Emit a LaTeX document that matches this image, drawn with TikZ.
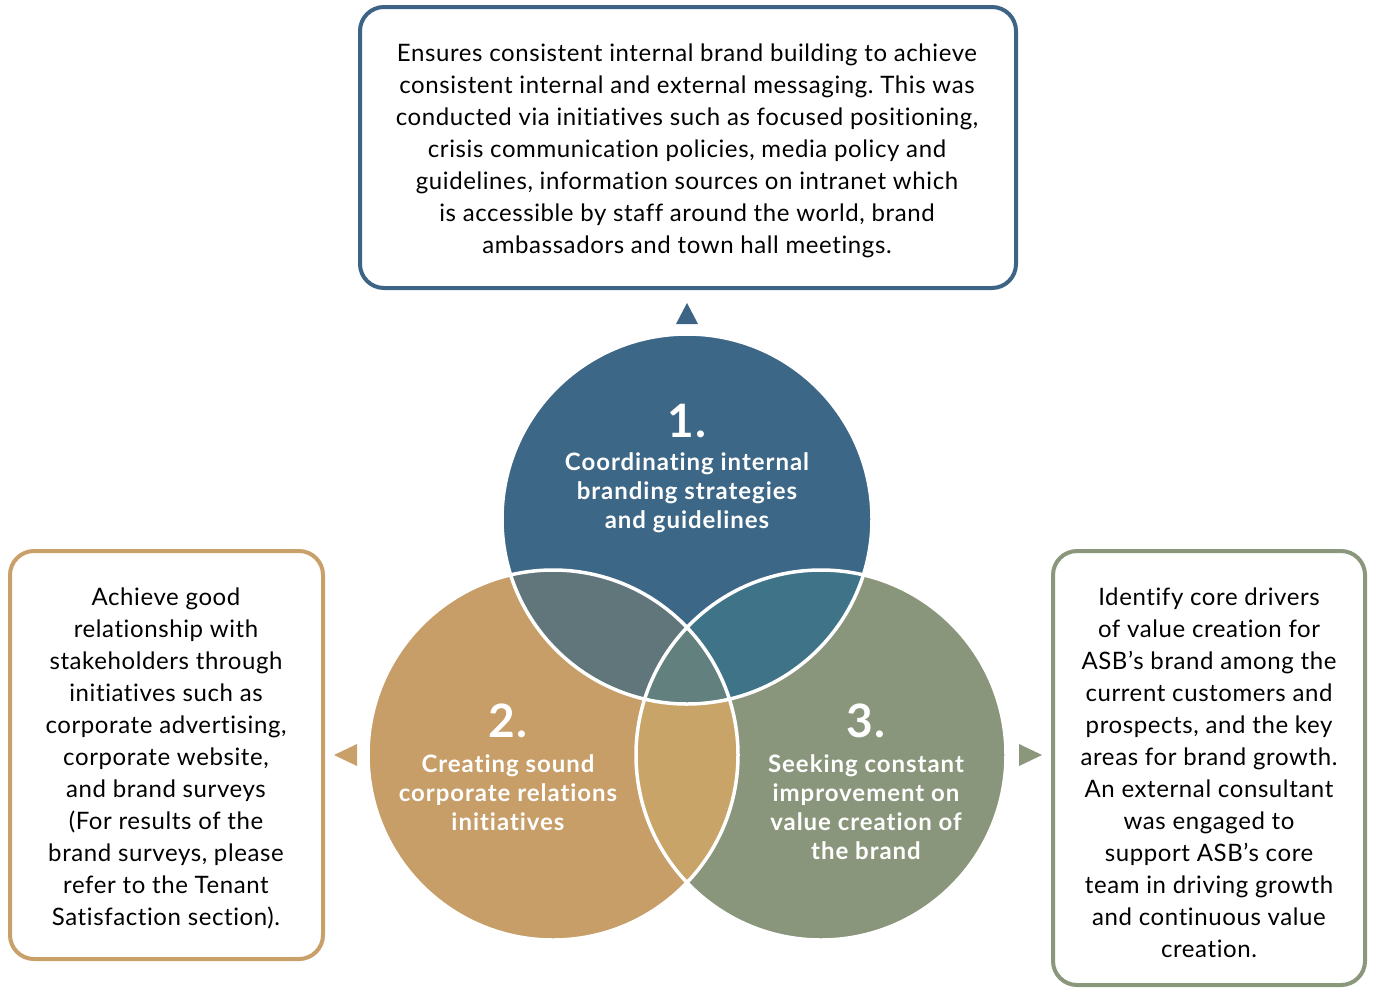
\documentclass[tikz,border=0pt]{standalone}
\usepackage{fontspec}
\setmainfont{Lato}
\newfontfamily\boxfont[LetterSpace=2.5,Ligatures=NoCommon]{Lato}
\newfontfamily\circfont[LetterSpace=4,Ligatures=NoCommon]{Lato}
\definecolor{cblue}{HTML}{3D6787}
\definecolor{ctan}{HTML}{C79D68}
\definecolor{cgreen}{HTML}{8A967B}
\definecolor{cbt}{HTML}{60767A}
\definecolor{cbg}{HTML}{3F7387}
\definecolor{ctg}{HTML}{C9A469}
\definecolor{cmid}{HTML}{62807D}
\definecolor{bblue}{HTML}{3D6485}
\definecolor{btan}{HTML}{C9A06A}
\definecolor{bgreen}{HTML}{8A977B}
\frenchspacing
\tikzset{
  infobox/.style={line width=4pt, rounded corners=24pt, fill=white},
  boxtext/.style={align=center, font=\boxfont\fontsize{24}{32}\selectfont, text=black, inner sep=0pt},
  circnum/.style={align=center, font=\circfont\fontsize{46}{46}\bfseries\selectfont, text=white, inner sep=0pt},
  circtext/.style={align=center, font=\circfont\fontsize{24}{29}\bfseries\selectfont, text=white, inner sep=0pt},
}
\begin{document}
\begin{tikzpicture}[x=1pt,y=-1pt]
\useasboundingbox (0,0) rectangle (1378,989);
\coordinate (C1) at (687,519);
\coordinate (C2) at (553,755);
\coordinate (C3) at (821,755);
% circle fills
\fill[cblue] (C1) circle (185pt);
\fill[ctan] (C2) circle (185pt);
\fill[cgreen] (C3) circle (185pt);
\begin{scope}
  \clip (C1) circle (185pt);
  \fill[cbt] (C2) circle (185pt);
  \fill[cbg] (C3) circle (185pt);
\end{scope}
\begin{scope}
  \clip (C2) circle (185pt);
  \fill[ctg] (C3) circle (185pt);
\end{scope}
\begin{scope}
  \clip (C1) circle (185pt);
  \clip (C2) circle (185pt);
  \fill[cmid] (C3) circle (185pt);
\end{scope}
\draw[white, line width=3.5pt] (C1) circle (185pt) (C2) circle (185pt) (C3) circle (185pt);
% circle texts
\node[circnum] (n1) at (687,421) {1.};
\node[circtext] (t1) at (687,493) {Coordinating internal\\branding strategies\\and guidelines};
\node[circnum] (n2) at (508,721) {2.};
\node[circtext] (t2) at (508,793) {Creating sound\\corporate relations\\initiatives};
\node[circnum] (n3) at (866,721) {3.};
\node[circtext] (t3) at (866,807) {Seeking constant\\improvement on\\value creation of\\the brand};
% boxes
\draw[infobox, draw=bblue] (360,7) rectangle (1016,288);
\node[boxtext] (top) at (687,151) {Ensures consistent internal brand building to achieve\\consistent internal and external messaging. This was\\conducted via initiatives such as focused positioning,\\crisis communication policies, media policy and\\guidelines, information sources on intranet which\\is accessible by staff around the world, brand\\ambassadors and town hall meetings.};
\draw[infobox, draw=btan] (10,551) rectangle (323,959);
\node[boxtext] (left) at (166,758) {Achieve good\\relationship with\\stakeholders through\\initiatives such as\\corporate advertising,\\corporate website,\\and brand surveys\\(For results of the\\brand surveys, please\\refer to the Tenant\\Satisfaction section).};
\draw[infobox, draw=bgreen] (1053,551) rectangle (1365,985);
\node[boxtext] (right) at (1209,773) {Identify core drivers\\of value creation for\\ASB’s brand among the\\current customers and\\prospects, and the key\\areas for brand growth.\\An external consultant\\was engaged to\\support ASB’s core\\team in driving growth\\and continuous value\\creation.};
% pointer triangles
\fill[bblue] (687,303) -- (698,324) -- (676,324) -- cycle;
\fill[btan] (334,755) -- (357,744) -- (357,766) -- cycle;
\fill[bgreen] (1042,755) -- (1019,744) -- (1019,766) -- cycle;
\end{tikzpicture}
\end{document}
